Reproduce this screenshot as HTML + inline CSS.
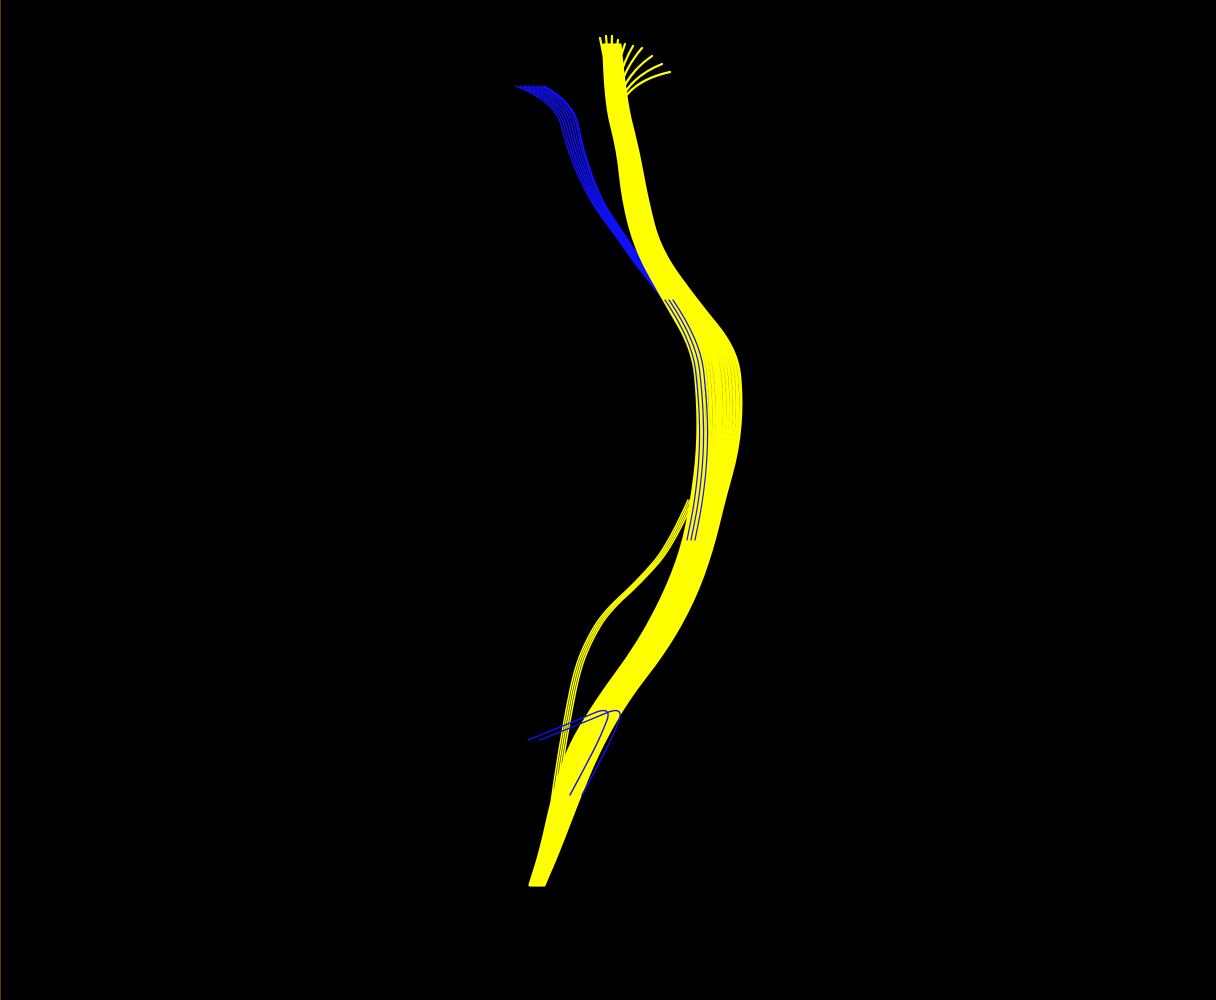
<!DOCTYPE html>
<html><head><meta charset="utf-8"><title>Fiber tract</title>
<style>html,body{margin:0;padding:0;background:#000;width:1216px;height:1000px;overflow:hidden}
svg{display:block}</style></head>
<body>
<svg id="chart" width="1216" height="1000" viewBox="0 0 1216 1000">
<rect width="1216" height="1000" fill="#000"/>
<line x1="0.5" y1="0" x2="0.5" y2="1000" stroke="#5a3a10" stroke-width="1"/>
<g id="blue"></g>
<g id="yellow"></g>
<g id="blue2"></g>
</svg>
<script>
// Yellow bundle centerline and half-width profile
const yellowX = [612,615,628,635,648,680,715,720,718,708,697,678,650,612,583,565,550,537];
const yellowY = [45,100,150,200,250,300,350,400,450,500,550,600,650,700,750,800,850,885];
const yellowW = [8,10,10,12,12,16,22,22,20,16,15,16,16,15,16,13,9,7];
const yellowOffsets = [-1,-0.85,-0.7,-0.55,-0.4,-0.25,-0.1,0,0.1,0.25,0.4,0.55,0.7,0.85,1];
// Left thin yellow branch
const branchX = [690,670,640,605,588,576,566,556,548];
const branchY = [500,545,580,612,640,670,720,780,840];
const branchOffsets = [-2,0,2,4];
// Blue upper-left tuft
const blueX = [530,565,575,595,620,642,668,695,702,703,698,690];
const blueY = [86,102,150,200,235,268,300,340,400,450,500,540];
const blueW = [14,9,8,6,5,4,4,3,3,3,3,3];
const blueOffsets = [-1,-0.7,-0.4,-0.1,0.2,0.5,0.8,1];
// Lower blue strands
const lowBlueX = [540,585,625,612,598,582];
const lowBlueY = [740,722,705,738,765,795];
// Top yellow tuft fan end points
const tuftX = [600,606,612,618,625,633,642,652,662,670];
const tuftY = [38,36,36,40,44,46,48,56,64,72];

function pathFrom(xs, ys, ws, off){
  const pts=xs.map((x,i)=>[x+(ws?ws[i]*off:off), ys[i]]);
  let d='M'+pts[0][0].toFixed(1)+' '+pts[0][1];
  for(let i=1;i<pts.length-1;i++){
    const mx=(pts[i][0]+pts[i+1][0])/2, my=(pts[i][1]+pts[i+1][1])/2;
    d+=' Q'+pts[i][0].toFixed(1)+' '+pts[i][1]+' '+mx.toFixed(1)+' '+my;
  }
  const l=pts[pts.length-1];
  d+=' L'+l[0].toFixed(1)+' '+l[1];
  return d;
}
function add(g, d, color, w, name){
  const p=document.createElementNS('http://www.w3.org/2000/svg','path');
  p.setAttribute('d',d);p.setAttribute('fill','none');p.setAttribute('stroke',color);
  p.setAttribute('stroke-width',w);p.setAttribute('stroke-linejoin','round');p.setAttribute('stroke-linecap','round');
  
  
  g.appendChild(p);
}
const gb=document.getElementById('blue'), gy=document.getElementById('yellow'), gb2=document.getElementById('blue2');
blueOffsets.forEach(o=>add(gb, pathFrom(blueX,blueY,blueW,o), '#1010ff', 1.4, 'blue-fiber'));
yellowOffsets.forEach(o=>add(gy, pathFrom(yellowX,yellowY,yellowW,o), '#ffff00', 3.2, 'yellow-fiber'));
branchOffsets.forEach(o=>add(gy, pathFrom(branchX,branchY,null,o), '#ffff00', 1.5, 'yellow-branch-fiber'));
tuftX.forEach((x,i)=>add(gy, 'M615 140 Q610 85 '+x+' '+tuftY[i], '#ffff00', 2.2, 'yellow-tuft-fiber'));
[-3,1,5].forEach(o=>add(gb2, pathFrom(blueX.slice(6),blueY.slice(6),null,o), '#1010ff', 1.2, 'blue-inner-fiber'));
[0,-12].forEach(o=>add(gb2, pathFrom(lowBlueX,lowBlueY,null,o), '#1010ff', 1.4, 'blue-lower-fiber'));
</script>
</body></html>
